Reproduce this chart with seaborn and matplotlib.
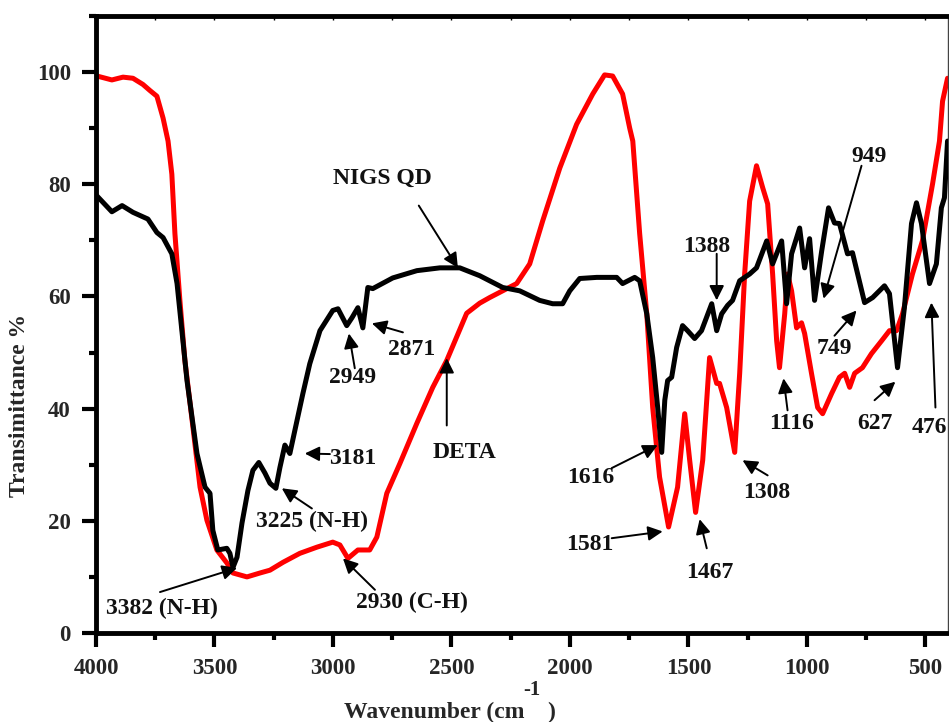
import matplotlib
matplotlib.use("Agg")
import matplotlib.pyplot as plt
import seaborn as sns
import pandas as pd
from matplotlib.ticker import MultipleLocator

# ---------------- data ----------------
nigs_wn = [4000, 3933, 3890, 3844, 3781, 3743, 3717, 3680, 3658, 3616, 3574, 3540, 3519,
           3507, 3486, 3448, 3435, 3422, 3405, 3384, 3359, 3338, 3313, 3287, 3266, 3241,
           3224, 3203, 3182, 3161, 3127, 3098, 3055, 3001, 2979, 2942, 2920, 2895, 2874,
           2853, 2832, 2748, 2646, 2549, 2465, 2381, 2284, 2212, 2128, 2073, 2031, 2001,
           1959, 1887, 1803, 1778, 1727, 1706, 1676, 1651, 1630, 1613, 1600, 1588, 1571,
           1550, 1525, 1504, 1474, 1445, 1402, 1381, 1360, 1335, 1314, 1284, 1242, 1213,
           1170, 1145, 1107, 1086, 1065, 1031, 1010, 989, 968, 938, 909, 884, 863, 829,
           808, 757, 723, 673, 652, 618, 589, 559, 538, 517, 483, 454, 433, 420, 407]
nigs_t = [78.1, 75.1, 76.2, 75.0, 73.8, 71.4, 70.5, 67.6, 62.3, 45.0, 32.0, 26.0, 24.9,
          18.3, 14.8, 15.1, 14.2, 11.7, 13.5, 19.6, 25.4, 29.0, 30.4, 28.5, 26.7, 25.8,
          29.5, 33.5, 32.0, 36.1, 42.7, 48.0, 53.9, 57.5, 57.8, 54.8, 56.2, 58.0, 54.4,
          61.6, 61.4, 63.3, 64.6, 65.1, 65.1, 63.7, 61.6, 61.0, 59.3, 58.7, 58.7, 61.0,
          63.2, 63.4, 63.4, 62.3, 63.4, 62.8, 56.9, 49.1, 40.2, 32.2, 41.5, 45.0, 45.6,
          50.9, 54.8, 53.9, 52.5, 53.9, 58.7, 53.9, 56.9, 58.4, 59.3, 62.8, 64.0, 65.1,
          69.9, 65.8, 69.9, 58.7, 67.6, 72.2, 65.1, 70.3, 59.3, 68.1, 75.8, 73.1, 73.0, 67.6,
          67.8, 58.9, 59.8, 61.9, 60.5, 47.3, 58.0, 73.0, 76.7, 73.0, 62.3, 65.8, 75.8, 77.6, 87.7]

deta_wn = [3996, 3933, 3886, 3844, 3802, 3772, 3743, 3717, 3696, 3680, 3667, 3646, 3625,
           3591, 3561, 3532, 3490, 3448, 3422, 3363, 3308, 3266, 3211, 3140, 3068, 3001,
           2971, 2937, 2895, 2845, 2815, 2773, 2718, 2646, 2579, 2520, 2436, 2381, 2339,
           2225, 2170, 2115, 2043, 1972, 1904, 1854, 1820, 1778, 1748, 1735, 1706, 1676,
           1651, 1622, 1584, 1546, 1516, 1495, 1470, 1440, 1411, 1381, 1369, 1339, 1305,
           1284, 1263, 1242, 1213, 1187, 1166, 1145, 1128, 1116, 1094, 1082, 1065, 1044,
           1023, 1010, 981, 955, 934, 896, 863, 841, 820, 799, 766, 728, 685, 652, 622,
           597, 555, 513, 470, 441, 428, 407]
deta_t = [99.3, 98.6, 99.1, 98.9, 97.8, 96.7, 95.7, 91.8, 87.7, 81.8, 71.2, 59.3, 48.6,
          36.7, 26.0, 20.1, 14.8, 12.5, 10.7, 10.0, 10.7, 11.2, 12.6, 14.2, 15.3, 16.2,
          15.7, 13.3, 14.8, 14.8, 17.1, 24.9, 30.2, 37.4, 43.8, 48.6, 57.0, 58.8, 59.8,
          62.3, 65.8, 73.5, 82.9, 90.7, 96.1, 99.5, 99.3, 96.1, 90.0, 87.7, 71.2, 56.9,
          40.2, 27.8, 18.9, 26.0, 39.1, 30.8, 21.5, 30.8, 49.1, 44.5, 44.5, 40.2, 32.2,
          46.3, 64.0, 77.0, 83.3, 79.4, 76.5, 64.0, 52.1, 47.3, 56.9, 64.0, 61.0, 54.4,
          55.3, 53.4, 46.3, 40.2, 39.1, 42.7, 45.6, 46.3, 43.8, 46.3, 47.3, 49.8, 52.1, 53.9, 53.9,
          56.9, 64.0, 69.9, 80.1, 87.7, 94.8, 98.9]

# peak labels: text, text position (wn, T), arrow tail, arrow tip
peak_labels = ["NIGS QD", "2871", "2949", "3181", "3225 (N-H)", "3382 (N-H)", "2930 (C-H)",
               "DETA", "1616", "1581", "1467", "1308", "1388", "1116", "949", "749", "627", "476"]
label_pos = [(2790, 81.0), (2667, 50.5), (2916, 45.6), (2916, 31.1), (3089, 19.8),
             (3722, 4.4), (2667, 5.5), (2444, 32.2), (1913, 27.8), (1917, 15.7),
             (1411, 10.7), (1170, 25.1), (1423, 68.9), (1065, 37.4), (736, 85.0),
             (884, 50.7), (715, 37.4), (483, 36.7)]
arrow_tail = [(2638, 76.2), (2705, 53.6), (2908, 47.2), (3013, 31.9), (3089, 22.2),
              (3730, 7.3), (2823, 7.7), (2520, 37.0), (1824, 29.4), (1824, 16.9),
              (1423, 15.1), (1166, 28.1), (1381, 67.6), (1082, 39.7), (770, 83.3),
              (884, 53.0), (715, 41.5), (458, 40.2)]
arrow_tip = [(2473, 65.1), (2836, 55.2), (2933, 53.4), (3119, 32.0), (3216, 25.8),
             (3405, 11.6), (2958, 13.3), (2520, 49.0), (1630, 33.5), (1609, 18.1),
             (1453, 20.3), (1272, 30.8), (1381, 59.3), (1099, 45.4), (930, 59.6),
             (791, 57.5), (627, 44.8), (475, 58.9)]

x_ticks = [4000, 3500, 3000, 2500, 2000, 1500, 1000, 500]
y_ticks = [0, 20, 40, 60, 80, 100]

# ---------------- plotting ----------------
sns.set_style("ticks")
plt.rcParams["font.family"] = ["Liberation Serif", "DejaVu Serif"]
plt.rcParams["font.weight"] = "bold"

W, H = 949, 722
fig = plt.figure(figsize=(W / 100, H / 100), dpi=100)
ax = fig.add_axes([96 / W, 1 - 633 / H, (948 - 96) / W, (633 - 16) / H])

df_n = pd.DataFrame({"wn": nigs_wn, "T": nigs_t})
df_d = pd.DataFrame({"wn": deta_wn, "T": deta_t})
sns.lineplot(data=df_n, x="wn", y="T", ax=ax, color="black", lw=3.6, sort=False,
             estimator=None, solid_joinstyle="round", solid_capstyle="round", zorder=3)
sns.lineplot(data=df_d, x="wn", y="T", ax=ax, color="#ff0000", lw=3.6, sort=False,
             estimator=None, solid_joinstyle="round", solid_capstyle="round", zorder=2)

ax.set_xlim(4000, 405)
ax.set_ylim(0, 110)
ax.set_xticks(x_ticks)
ax.set_yticks(y_ticks)
ax.xaxis.set_minor_locator(MultipleLocator(250))
ax.yaxis.set_minor_locator(MultipleLocator(10))
ax.set_xlabel("")
ax.set_ylabel("")

for lab in ax.get_xticklabels() + ax.get_yticklabels():
    lab.set_fontweight("bold")
    lab.set_fontsize(16.5)

ax.tick_params(axis="both", which="major", direction="out", length=10, width=3,
               color="black", pad=8)
ax.tick_params(axis="both", which="minor", direction="out", length=5, width=3,
               color="black")
ax.tick_params(axis="x", which="both", top=True, labeltop=False)
for sp in ["left", "bottom", "top"]:
    ax.spines[sp].set_linewidth(3.5)
    ax.spines[sp].set_color("black")
ax.spines["right"].set_linewidth(1.0)
ax.spines["right"].set_color("#444444")
# top ticks small and inward
for t in ax.xaxis.get_major_ticks() + ax.xaxis.get_minor_ticks():
    t.tick2line.set_markersize(3)
    t.tick2line.set_markeredgewidth(1)
    t.tick2line.set_marker(3)

for txt, pos, tail, tip in zip(peak_labels, label_pos, arrow_tail, arrow_tip):
    ax.text(pos[0], pos[1], txt, ha="center", va="center", fontsize=17,
            fontweight="bold", color="#111111", zorder=5)
    ax.annotate("", xy=tip, xytext=tail,
                arrowprops=dict(arrowstyle="-|>", color="black", lw=1.4,
                                mutation_scale=22, shrinkA=0, shrinkB=0),
                zorder=5)

fig.text(450 / W, 1 - 712 / H, "Wavenumber (cm    )", ha="center", va="center",
         fontsize=17, fontweight="bold")
fig.text(532 / W, 1 - 690 / H, "-1", ha="center", va="center",
         fontsize=15, fontweight="bold")
fig.text(20 / W, 1 - 405 / H, "Transimittance %", ha="center", va="center",
         rotation=90, fontsize=17, fontweight="bold")

fig.savefig("out.png", dpi=100, facecolor="white")
